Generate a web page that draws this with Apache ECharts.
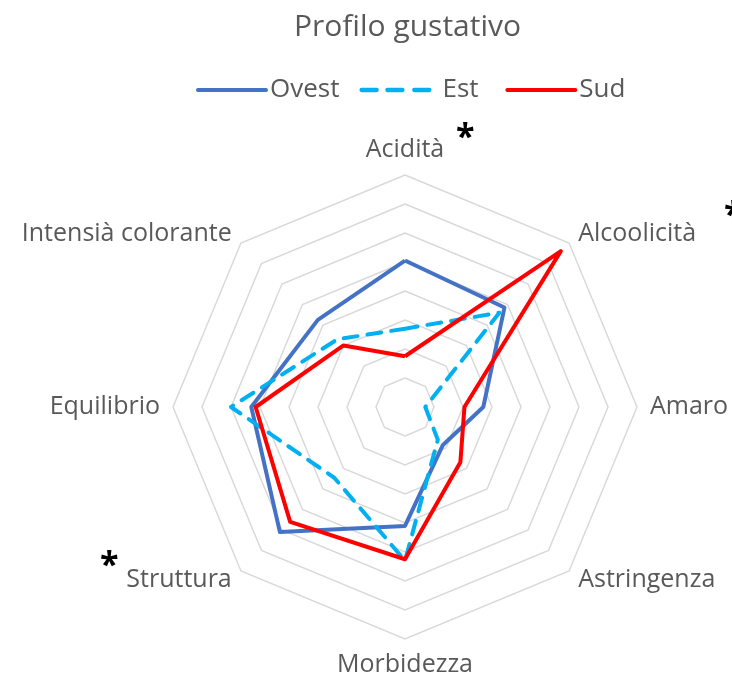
<!DOCTYPE html>
<html>
<head>
<meta charset="utf-8">
<script src="https://cdn.jsdelivr.net/npm/echarts@6/dist/echarts.min.js"></script>
<style>
  html, body { margin: 0; padding: 0; background: #fff; }
  #chart { width: 732px; height: 682px; }
</style>
</head>
<body>
<div id="chart"></div>
<script>
// axes in clockwise order, starting at the top
const categories = ["Acidità", "Alcoolicità", "Amaro", "Astringenza", "Morbidezza", "Struttura", "Equilibrio", "Intensià colorante"];
const ovest = [5.05, 4.85, 2.7, 1.85, 4.1, 6.1, 5.3, 4.25];
const est = [2.7, 4.6, 0.7, 1.6, 5.3, 3.45, 6.0, 3.3];
const sud = [1.75, 7.6, 2.05, 2.7, 5.25, 5.6, 5.15, 3.0];
const axisMax = 8;

// echarts goes counter-clockwise, so keep the first item and reverse the rest
const ccw = (arr) => [arr[0]].concat(arr.slice(1).reverse());

const font = "'Open Sans', 'Noto Sans', sans-serif";
const grey = "#595959";
const solidIcon = "path://M2,0h68a2,2 0 0 1 0,4h-68a2,2 0 0 1 0,-4z";
const dashIcon = "path://M2,0h14a2,2 0 0 1 0,4h-14a2,2 0 0 1 0,-4z M26,0h14a2,2 0 0 1 0,4h-14a2,2 0 0 1 0,-4z M51,0h14a2,2 0 0 1 0,4h-14a2,2 0 0 1 0,-4z";
const star = (left, top) => ({
  type: "text", left, top,
  style: { text: "*", fontSize: 34, fontWeight: "bold", fill: "#000", fontFamily: font },
});

const chart = echarts.init(document.getElementById("chart"));
chart.setOption({
  animation: false,
  title: {
    text: "Profilo gustativo",
    left: 289,
    top: 7,
    textStyle: { color: grey, fontSize: 30, fontWeight: "normal", fontFamily: font },
  },
  legend: {
    top: 72,
    left: 191,
    itemWidth: 72,
    itemHeight: 5,
    itemGap: 20,
    formatter: (name) => (name === "Est" ? "Est " : name),
    textStyle: { color: grey, fontSize: 26, fontFamily: font, padding: [0, 0, 0, -3] },
    data: [
      { name: "Ovest", icon: solidIcon },
      { name: "Est", icon: dashIcon, textStyle: { padding: [0, 0, 0, 6] } },
      { name: "Sud", icon: solidIcon },
    ],
  },
  radar: {
    center: [405, 407],
    radius: 232,
    startAngle: 90,
    splitNumber: 8,
    shape: "polygon",
    indicator: ccw(categories).map((name) => ({ name, min: 0, max: axisMax })),
    axisName: { color: grey, fontSize: 25, fontFamily: font },
    nameGap: 13,
    axisLine: { show: false },
    splitArea: { show: false },
    splitLine: { lineStyle: { color: "#d9d9d9", width: 1.5 } },
  },
  graphic: [star(456, 121), star(724, 199), star(100, 549)],
  series: [
    {
      type: "radar",
      symbol: "none",
      data: [
        { name: "Ovest", value: ccw(ovest), lineStyle: { color: "#4472C4", width: 4, join: "round" }, itemStyle: { color: "#4472C4" } },
        { name: "Est", value: ccw(est), lineStyle: { color: "#00B0F0", width: 4, type: [14, 10], cap: "round", join: "round" }, itemStyle: { color: "#00B0F0" } },
        { name: "Sud", value: ccw(sud), lineStyle: { color: "#FF0000", width: 4, join: "round" }, itemStyle: { color: "#FF0000" } },
      ],
    },
  ],
});
</script>
</body>
</html>
